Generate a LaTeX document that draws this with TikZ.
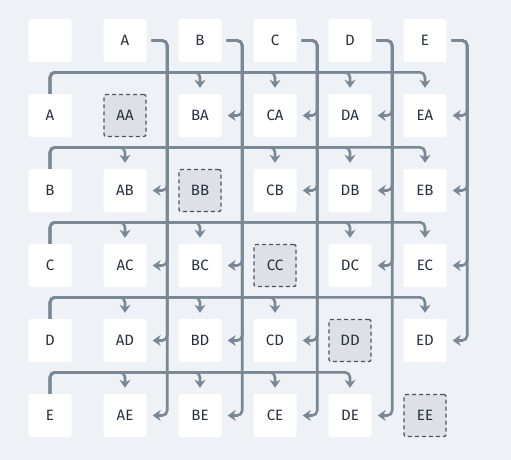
\documentclass[tikz,border=0pt]{standalone}
\usepackage{fontspec}
\setmainfont{Fira Sans}
\usetikzlibrary{arrows.meta}
\definecolor{bg}{HTML}{EEF2F6}
\definecolor{txt}{HTML}{27303D}
\definecolor{arrowc}{HTML}{7A8896}
\definecolor{dashc}{HTML}{4A5563}
\definecolor{diagfill}{HTML}{DDE0E4}
\begin{document}
\begin{tikzpicture}[x=1pt,y=-1pt,
  cell/.style={fill=white, rounded corners=2pt, minimum width=43pt, minimum height=43pt, inner sep=0pt, text=txt, font=\fontsize{15}{17}\selectfont},
  diag/.style={cell, fill=diagfill, draw=dashc, dash pattern=on 4pt off 3pt, line width=1.3pt, minimum width=42pt, minimum height=42pt},
  edge/.style={draw=arrowc, line width=2.6pt, rounded corners=5pt, -{Stealth[length=8pt,width=11pt,inset=2.5pt]}, shorten >=6pt}]
\fill[bg] (0,0) rectangle (511,460);
\useasboundingbox (0,0) rectangle (511,460);
\node[cell] (corner) at (50,40.5) {};
\foreach \c [count=\i from 0] in {A,B,C,D,E} {
  \node[cell] (h\c) at (125+75*\i,40.5) {\c};
  \node[cell] (v\c) at (50,115.5+75*\i) {\c};
}
\foreach \c [count=\i from 0] in {A,B,C,D,E} {
  \foreach \r [count=\j from 0] in {A,B,C,D,E} {
    \ifnum\i=\j
      \node[diag] (\c\r) at (125+75*\i,115.5+75*\j) {\c\r};
    \else
      \node[cell] (\c\r) at (125+75*\i,115.5+75*\j) {\c\r};
    \fi
  }
}
\foreach \c [count=\i from 0] in {A,B,C,D,E} {
  \foreach \r [count=\j from 0] in {A,B,C,D,E} {
    \ifnum\i=\j\else
      \draw[edge] ([xshift=5pt]h\c.east) -- ++(15.5,0) |- (\c\r.east);
      \draw[edge] (v\r.north) -- ++(0,-21.5) -| (\c\r.north);
    \fi
  }
}
\end{tikzpicture}
\end{document}
